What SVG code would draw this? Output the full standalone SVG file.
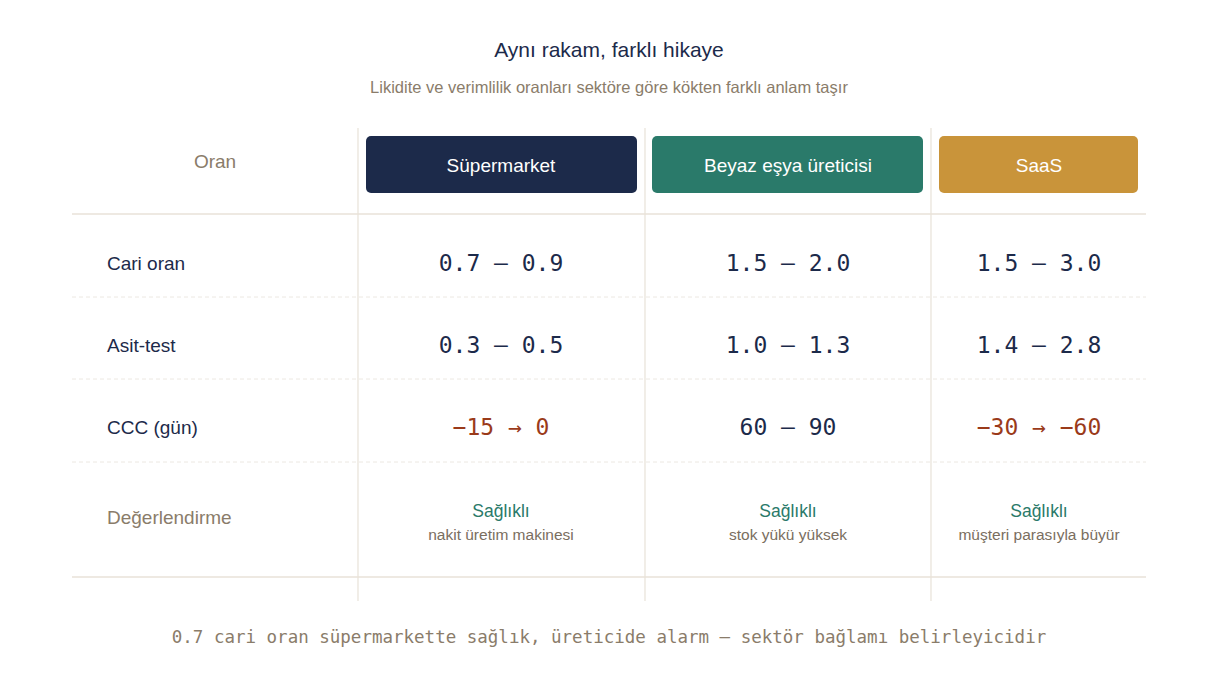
<svg xmlns="http://www.w3.org/2000/svg" width="1218" height="680" viewBox="0 0 1218 680">
<style>
.s{font-family:"Liberation Sans",Arial,sans-serif}
.m{font-family:"DejaVu Sans Mono",monospace}
.t{font-size:21px;fill:#1c2a4a}
.st{font-size:16.5px;fill:#8a7c6a}
.h{font-size:19px;fill:#fff}
.lab{font-size:19px;fill:#1c2a4a}
.gl{font-size:19px;fill:#8a7c6a}
.v{font-size:23px;fill:#1c2a4a}
.r{fill:#9a3a1a}
.g{font-size:17.5px;fill:#2a7a6a}
.n{font-size:15.5px;fill:#7a6e60}
.ft{font-size:17.5px;fill:#8a7c6a}
.vl{stroke:#e8e2d8;stroke-width:1.2}
.hl{stroke:#e8e2d8;stroke-width:1.5}
.dl{stroke:#ece8e2;stroke-width:1;stroke-dasharray:4 3}
</style>
<rect width="1218" height="680" fill="#fff"/>
<text class="s t" x="609" y="57" text-anchor="middle">Aynı rakam, farklı hikaye</text>
<text class="s st" x="609" y="93" text-anchor="middle">Likidite ve verimlilik oranları sektöre göre kökten farklı anlam taşır</text>
<g id="grid">
<line class="vl" x1="358" y1="128" x2="358" y2="601"/>
<line class="vl" x1="645" y1="128" x2="645" y2="601"/>
<line class="vl" x1="931" y1="128" x2="931" y2="601"/>
<line class="hl" x1="72" y1="214" x2="1146" y2="214"/>
<line class="hl" x1="72" y1="577" x2="1146" y2="577"/>
<line class="dl" x1="72" y1="297" x2="1146" y2="297"/>
<line class="dl" x1="72" y1="379" x2="1146" y2="379"/>
<line class="dl" x1="72" y1="462" x2="1146" y2="462"/>
</g>
<text class="s gl" x="215" y="168" text-anchor="middle">Oran</text>
<g id="h-super"><rect x="366" y="136" width="271" height="57" rx="5" fill="#1c2a4a"/><text class="s h" x="501" y="172" text-anchor="middle">Süpermarket</text></g>
<g id="h-beyaz"><rect x="652" y="136" width="271" height="57" rx="5" fill="#2a7a6a"/><text class="s h" x="788" y="172" text-anchor="middle">Beyaz eşya üreticisi</text></g>
<g id="h-saas"><rect x="939" y="136" width="199" height="57" rx="5" fill="#c9943a"/><text class="s h" x="1039" y="172" text-anchor="middle">SaaS</text></g>
<g id="rows">
<text class="s lab" x="107" y="270">Cari oran</text>
<text class="m v" x="501" y="271" text-anchor="middle">0.7 – 0.9</text>
<text class="m v" x="788" y="271" text-anchor="middle">1.5 – 2.0</text>
<text class="m v" x="1039" y="271" text-anchor="middle">1.5 – 3.0</text>
<text class="s lab" x="107" y="352">Asit-test</text>
<text class="m v" x="501" y="353" text-anchor="middle">0.3 – 0.5</text>
<text class="m v" x="788" y="353" text-anchor="middle">1.0 – 1.3</text>
<text class="m v" x="1039" y="353" text-anchor="middle">1.4 – 2.8</text>
<text class="s lab" x="107" y="434">CCC (gün)</text>
<text class="m v r" x="501" y="435" text-anchor="middle">−15 → 0</text>
<text class="m v" x="788" y="435" text-anchor="middle">60 – 90</text>
<text class="m v r" x="1039" y="435" text-anchor="middle">−30 → −60</text>
<text class="s gl" x="107" y="524">Değerlendirme</text>
<text class="s g" x="501" y="517" text-anchor="middle">Sağlıklı</text>
<text class="s n" x="501" y="540" text-anchor="middle">nakit üretim makinesi</text>
<text class="s g" x="788" y="517" text-anchor="middle">Sağlıklı</text>
<text class="s n" x="788" y="540" text-anchor="middle">stok yükü yüksek</text>
<text class="s g" x="1039" y="517" text-anchor="middle">Sağlıklı</text>
<text class="s n" x="1039" y="540" text-anchor="middle">müşteri parasıyla büyür</text>
</g>
<text class="m ft" x="609" y="643" text-anchor="middle">0.7 cari oran süpermarkette sağlık, üreticide alarm — sektör bağlamı belirleyicidir</text>
</svg>
